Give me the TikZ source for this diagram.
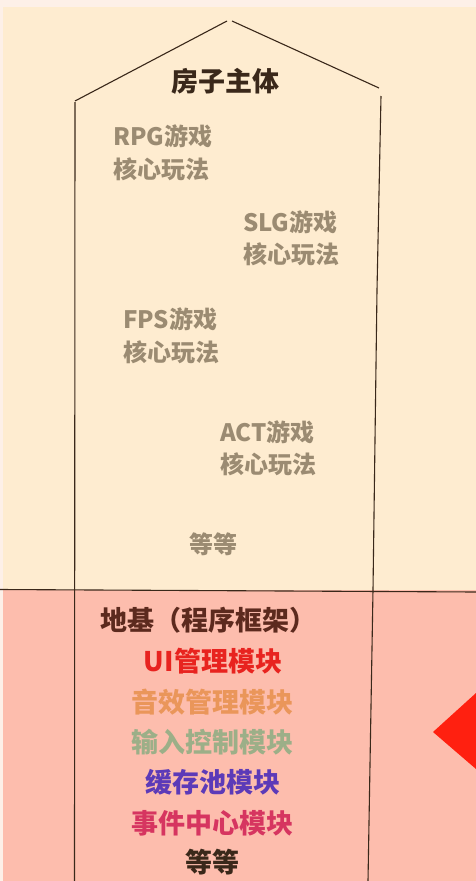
\documentclass[tikz,border=0pt]{standalone}
\usepackage{fontspec}
\newfontfamily\cjk{Noto Sans CJK SC}
\definecolor{edge}{RGB}{253,240,232}
\definecolor{cream}{RGB}{254,236,208}
\definecolor{rose}{RGB}{253,189,173}
\definecolor{ink}{RGB}{58,40,26}
\definecolor{modegray}{RGB}{155,139,114}
\definecolor{basebrown}{RGB}{92,42,30}
\definecolor{uired}{RGB}{232,35,31}
\definecolor{sfxorange}{RGB}{234,150,90}
\definecolor{inputgreen}{RGB}{156,175,136}
\definecolor{poolpurple}{RGB}{92,58,184}
\definecolor{eventpink}{RGB}{214,53,96}
\definecolor{flagred}{RGB}{255,32,16}
\tikzset{
  wall/.style={draw=ink, line width=1.1pt},
  modetext/.style={anchor=west, align=left, inner sep=0pt, text=modegray,
    font={\cjk\bfseries\fontsize{24}{32.5}\selectfont}},
  modtext/.style={inner sep=0pt, font={\cjk\bfseries\fontsize{27}{27}\selectfont}}
}
\begin{document}
\begin{tikzpicture}[x=1pt,y=1pt,yscale=-1]
\useasboundingbox (0,0) rectangle (476,881);

%Shape: Background
\fill [edge] (0,0) rectangle (476,881);
\fill [cream] (3,7) rectangle (476,590);
\fill [rose] (3,590) rectangle (476,881);

%Shape: Roof
\draw [wall] (75,101) -- (227,21);
\draw [wall] (232,21) -- (379,88);
%Shape: Walls
\draw [wall] (75,102) -- (74.5,881);
\draw [wall] (381,96) -- (377,290) -- (373,590) -- (368,881);
%Straight Lines: ground
\draw [wall] (0,589.5) -- (476,592);

%Shape: Flag
\fill [flagred] (433,732) -- (476,693) -- (476,769) -- cycle;

% Text Node
\node (house) [modtext, text=ink] at (225,81) {房子主体};
% Text Node
\node (rpg) [modetext] at (113,152.5) {RPG游戏\\核心玩法};
\node (slg) [modetext] at (243,238) {SLG游戏\\核心玩法};
\node (fps) [modetext] at (123,335.5) {FPS游戏\\核心玩法};
\node (act) [modetext] at (220,448) {ACT游戏\\核心玩法};
\node (moregame) [modetext, anchor=center] at (213,544) {等等};

% Text Node
\node (base) [modtext, text=basebrown] at (208,620) {地基（程序框架）};
\node (ui) [modtext, text=uired] at (213,661) {UI管理模块};
\node (sfx) [modtext, text=sfxorange] at (212.5,702) {音效管理模块};
\node (input) [modtext, text=inputgreen] at (212.5,742) {输入控制模块};
\node (pool) [modtext, text=poolpurple] at (212.5,782) {缓存池模块};
\node (event) [modtext, text=eventpink] at (212.5,823) {事件中心模块};
\node (moremod) [modtext, text=ink] at (212.5,862) {等等};

\end{tikzpicture}
\end{document}
